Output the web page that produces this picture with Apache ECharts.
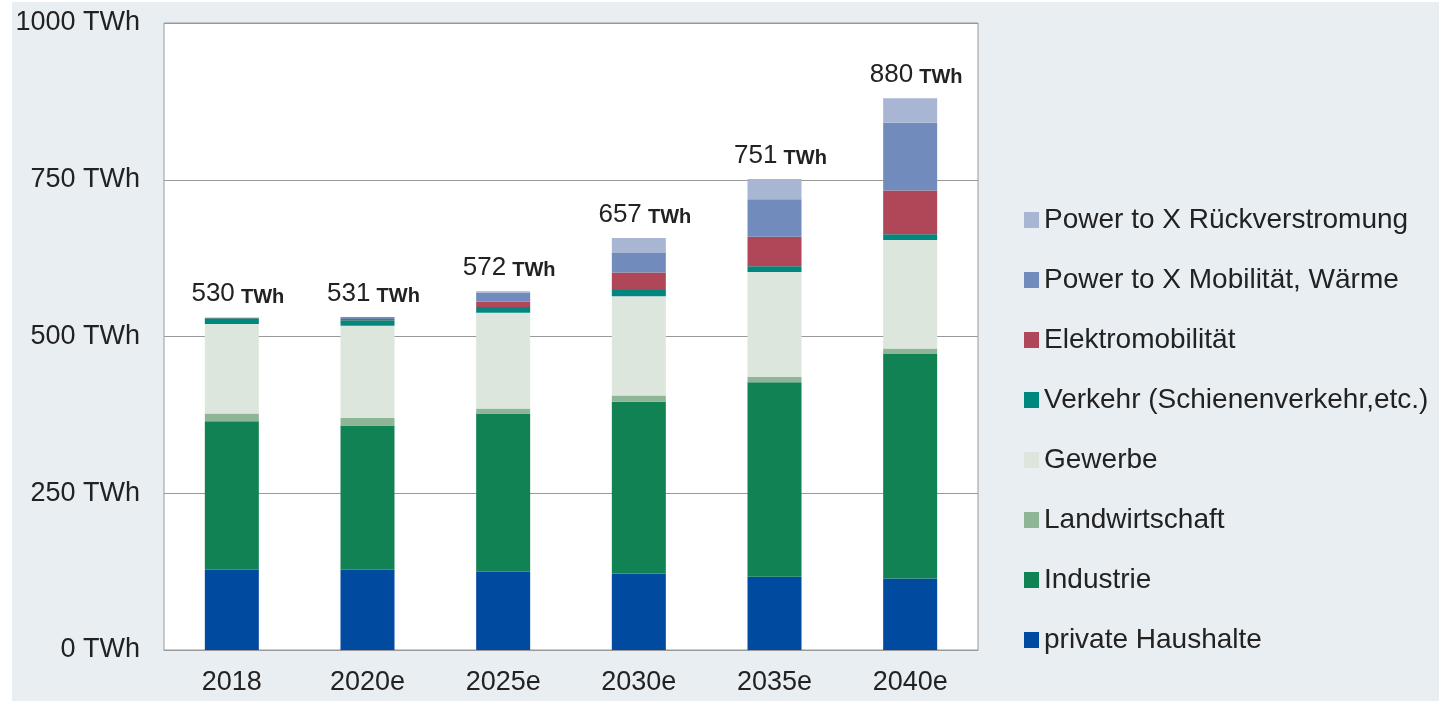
<!DOCTYPE html>
<html>
<head>
<meta charset="utf-8">
<script src="https://cdn.jsdelivr.net/npm/echarts@6/dist/echarts.min.js"></script>
<style>
  html, body { margin: 0; padding: 0; background: #fff; }
  #chart { position: absolute; left: 12px; top: 2px; width: 1427px; height: 699px; }
</style>
</head>
<body>
<div id="chart"></div>
<script>
// Stromverbrauch nach Sektoren (TWh)
const years = ['2018', '2020e', '2025e', '2030e', '2035e', '2040e'];
const haushalte = [128, 128, 125, 122, 117, 114];
const industrie = [237, 230, 252, 274, 310, 358];
const landwirtschaft = [12, 12, 8, 10, 9, 9];
const gewerbe = [143, 147, 153, 158, 167, 173];
const verkehr = [9, 9, 9, 10, 9, 9];
const elektromobil = [1, 2, 9, 28, 47, 70];
const ptxMobil = [0, 3, 14, 31, 60, 108];
const ptxRueck = [0, 0, 2, 24, 32, 39];
const totals = [530, 531, 572, 657, 751, 880];
const yTicks = [0, 250, 500, 750, 1000];

const chart = echarts.init(document.getElementById('chart'));

// Reihenfolge von unten nach oben
const parts = [
  { name: 'private Haushalte', data: haushalte, color: '#004a9f' },
  { name: 'Industrie', data: industrie, color: '#118253' },
  { name: 'Landwirtschaft', data: landwirtschaft, color: '#8fb597' },
  { name: 'Gewerbe', data: gewerbe, color: '#dce6dc' },
  { name: 'Verkehr (Schienenverkehr,etc.)', data: verkehr, color: '#00877f' },
  { name: 'Elektromobilität', data: elektromobil, color: '#b04759' },
  { name: 'Power to X Mobilität, Wärme', data: ptxMobil, color: '#728bbd' },
  { name: 'Power to X Rückverstromung', data: ptxRueck, color: '#a8b5d3' }
];

const series = parts.map(p => ({
  name: p.name,
  type: 'bar',
  stack: 'sum',
  barWidth: 54,
  data: p.data,
  itemStyle: { color: p.color },
  emphasis: { disabled: true }
}));

// Summenbeschriftung über den Säulen
series.push({
  name: 'Summe',
  type: 'line',
  data: totals,
  symbol: 'circle',
  symbolSize: 1,
  showSymbol: true,
  itemStyle: { color: 'rgba(0,0,0,0)' },
  lineStyle: { width: 0, color: 'rgba(0,0,0,0)' },
  silent: true,
  z: 5,
  label: {
    show: true,
    position: 'top',
    distance: 10,
    offset: [6, 0],
    formatter: p => '{n|' + p.value + '}{s| }{t|TWh}',
    rich: {
      n: { fontSize: 26, color: '#222', fontFamily: 'Liberation Sans', verticalAlign: 'bottom', lineHeight: 28 },
      s: { fontSize: 22, verticalAlign: 'bottom', lineHeight: 26 },
      t: { fontSize: 20, color: '#222', fontWeight: 'bold', fontFamily: 'Liberation Sans', verticalAlign: 'bottom', lineHeight: 25 }
    }
  }
});

const option = {
  backgroundColor: '#e9eef3',
  animation: false,
  textStyle: { fontFamily: 'Liberation Sans' },
  grid: {
    left: 152, right: 461, top: 21, bottom: 51,
    show: true, backgroundColor: '#fff', borderColor: '#999', borderWidth: 1
  },
  legend: {
    orient: 'vertical',
    left: 1007,
    top: 198,
    icon: 'rect',
    itemWidth: 15,
    itemHeight: 16,
    itemGap: 30,
    itemTextGap: 6,
    selectedMode: false,
    data: parts.map(p => p.name).reverse(),
    textStyle: { fontSize: 28, lineHeight: 30, color: '#222', fontFamily: 'Liberation Sans' }
  },
  xAxis: {
    type: 'category',
    data: years,
    axisTick: { show: false },
    axisLine: { lineStyle: { color: '#999', width: 1 } },
    axisLabel: { fontSize: 27, color: '#222', margin: 19 }
  },
  yAxis: {
    type: 'value',
    min: yTicks[0],
    max: yTicks[yTicks.length - 1],
    interval: 250,
    axisLine: { show: false },
    axisTick: { show: false },
    splitLine: { lineStyle: { color: '#999', width: 1 } },
    axisLabel: { fontSize: 27, color: '#222', margin: 24, formatter: v => v + ' TWh' }
  },
  series: series
};

chart.setOption(option);
</script>
</body>
</html>
